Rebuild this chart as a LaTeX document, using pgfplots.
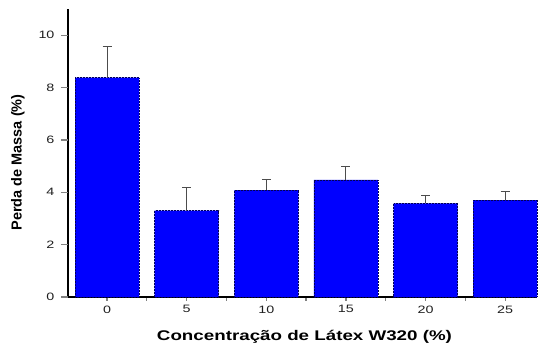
\documentclass[border=0pt]{standalone}
\usepackage{fontspec}
\setmainfont{Liberation Sans}
\newfontfamily\wide{Liberation Sans}[FakeStretch=1.34]
\usepackage{pgfplots}
\pgfplotsset{compat=1.18}
\begin{document}
\begin{tikzpicture}
\begin{axis}[
  scale only axis,
  width=469pt, height=288pt,
  xmin=-0.49, xmax=5.40,
  ymin=0, ymax=11,
  axis x line*=bottom, axis y line*=left,
  axis line style={line width=1.8pt},
  xtick={0,1,2,3,4,5},
  xticklabels={0,5,10,15,20,25},
  minor xtick={-0.5,0.5,1.5,2.5,3.5,4.5},
  ytick=\empty,
  extra y ticks={0,2,4,6,8,10},
  extra y tick style={major tick length=7pt, yticklabel style={xshift=-3pt}},
  minor ytick={1,3,5,7,9,11},
  tick align=outside,
  major tick length=4pt,
  minor tick length=4pt,
  every major tick/.append style={line width=1.3pt},
  every minor tick/.append style={line width=1.3pt},
  /pgf/number format/assume math mode=true,
  tick label style={font=\wide\fontsize{10.7}{12}\selectfont, text=black!88},
  xticklabel style={yshift=-1pt},
  xlabel={\wide\bfseries Concentração de Látex W320 (\%)},
  ylabel={\bfseries Perda de Massa (\%)},
  xlabel style={font=\fontsize{14}{16}\selectfont, at={(axis description cs:0.5,0)}, anchor=base, yshift=-44pt, xshift=2pt},
  ylabel style={font=\fontsize{14.5}{16}\selectfont, at={(axis description cs:0,0.467)}, anchor=center, yshift=50pt},
  ybar, bar width=64pt,
  clip=false,
]
\addplot[fill={rgb,255:red,0;green,0;blue,255}, draw=blue!35!black, line width=0.5pt, densely dotted,
  error bars/.cd, y dir=plus, y explicit,
  error bar style={solid, line width=0.9pt, draw=black!70},
  error mark options={rotate=90, mark size=4.5pt, solid, line width=0.9pt, draw=black!70}]
coordinates {
  (0,8.38) +- (0,1.20)
  (1,3.30) +- (0,0.88)
  (2,4.08) +- (0,0.40)
  (3,4.47) +- (0,0.53)
  (4,3.58) +- (0,0.30)
  (5,3.70) +- (0,0.33)
};
\end{axis}
\pgfresetboundingbox
\path ([shift={(-68pt,-50pt)}]current axis.south west) rectangle ([shift={(3pt,9pt)}]current axis.north east);
\end{tikzpicture}
\end{document}
